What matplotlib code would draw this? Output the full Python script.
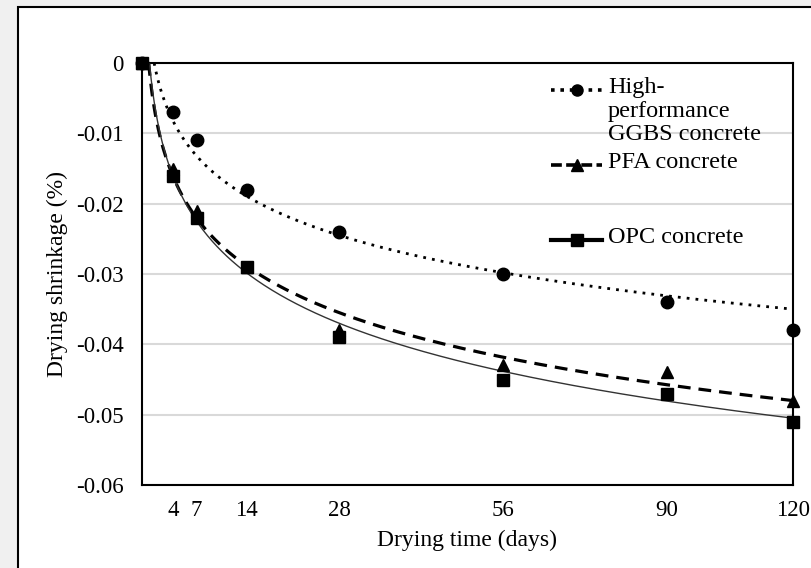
import numpy as np
import matplotlib
matplotlib.use("Agg")
import matplotlib.pyplot as plt
from matplotlib.lines import Line2D
from matplotlib.patches import Rectangle
from matplotlib.ticker import FuncFormatter

plt.rcParams['font.family'] = ['Liberation Serif', 'DejaVu Serif']
plt.rcParams['axes.unicode_minus'] = False

# drying time (days) and where each day sits along the x axis (0 = left spine, 1 = right spine)
days = [0, 4, 7, 14, 28, 56, 90, 120]
day_pos = [0, 0.048, 0.084, 0.161, 0.303, 0.555, 0.806, 1.0]

# measured drying shrinkage (%)
ggbs = [0, -0.007, -0.011, -0.018, -0.024, -0.030, -0.034, -0.038]
pfa = [0, -0.015, -0.021, -0.029, -0.038, -0.043, -0.044, -0.048]
opc = [0, -0.016, -0.022, -0.029, -0.039, -0.045, -0.047, -0.051]

labels = ['High-\nperformance\nGGBS concrete', 'PFA concrete', 'OPC concrete']
markers = ['o', '^', 's']

# log trendlines  y = b - a*ln(u)   (u = position along x axis)
trend_a = [0.00879, 0.01047, 0.0113]
trend_b = [-0.035, -0.048, -0.0505]


def fwd(d):
    return np.interp(d, days, day_pos)


def inv(p):
    return np.interp(p, day_pos, days)


fig = plt.figure(figsize=(8.12, 5.68), dpi=100, facecolor='#f0f0f0')
fig.patches.append(Rectangle((18 / 812, -0.05), 1.1, 1.05 - 7 / 568, transform=fig.transFigure,
                             facecolor='white', edgecolor='black', lw=1.5, zorder=-1))
ax = fig.add_axes([142 / 812, 83 / 568, 651 / 812, 422 / 568])
ax.set_xscale('function', functions=(fwd, inv))
ax.set_xlim(0, 120)
ax.set_ylim(-0.06, 0)

series = [ggbs, pfa, opc]
trend_styles = [dict(ls=(0, (1, 2.2)), lw=2.0, color='black'),
                dict(ls=(0, (4, 2.5)), lw=2.3, color='black'),
                dict(ls='-', lw=1.0, color='#333333')]
marker_sizes = [9, 8.5, 8]

for vals, mk, ms, a, b, st in zip(series, markers, marker_sizes, trend_a, trend_b, trend_styles):
    u = np.linspace(np.exp(b / a), 1, 400)
    ax.plot(inv(u), b - a * np.log(u), zorder=3, **st)
    ax.plot(days, vals, ls='none', marker=mk, ms=ms, color='black', zorder=4, clip_on=False)

ax.set_xticks(days[1:])
ax.set_xticklabels([str(d) for d in days[1:]])
ax.set_yticks(np.arange(-0.06, 0.001, 0.01))
ax.yaxis.set_major_formatter(FuncFormatter(lambda v, p: '0' if abs(v) < 1e-9 else f'{v:.2f}'))
ax.tick_params(length=0, labelsize=16.5)
ax.tick_params(axis='y', pad=13)
ax.tick_params(axis='x', pad=11)
ax.yaxis.grid(True, color='#d9d9d9', lw=1.5)
ax.set_axisbelow(True)
for s in ax.spines.values():
    s.set_linewidth(1.5)
    s.set_color('black')

ax.set_xlabel('Drying time (days)', fontsize=17, labelpad=6)
ax.set_ylabel('Drying shrinkage (%)', fontsize=17, labelpad=6)

# legend, drawn like the spreadsheet one (marker on the first text line)
leg_y = [0.936, 0.758, 0.581]
leg_styles = [dict(ls=(0, (1, 1.6)), lw=2.6),
              dict(ls=(0, (3, 1.2)), lw=2.6),
              dict(ls='-', lw=3.0)]
for lab, mk, y, st in zip(labels, markers, leg_y, leg_styles):
    ax.add_line(Line2D([0.629, 0.707], [y, y], transform=ax.transAxes, color='black',
                       clip_on=False, zorder=5, **st))
    ax.add_line(Line2D([0.668], [y], transform=ax.transAxes, color='black', ls='none',
                       marker=mk, ms=8, clip_on=False, zorder=6))
    ax.text(0.716, y + 0.03, lab, transform=ax.transAxes, fontsize=17.5, va='top', ha='left',
            linespacing=1.15)

fig.savefig('out.png', dpi=100, facecolor=fig.get_facecolor())
